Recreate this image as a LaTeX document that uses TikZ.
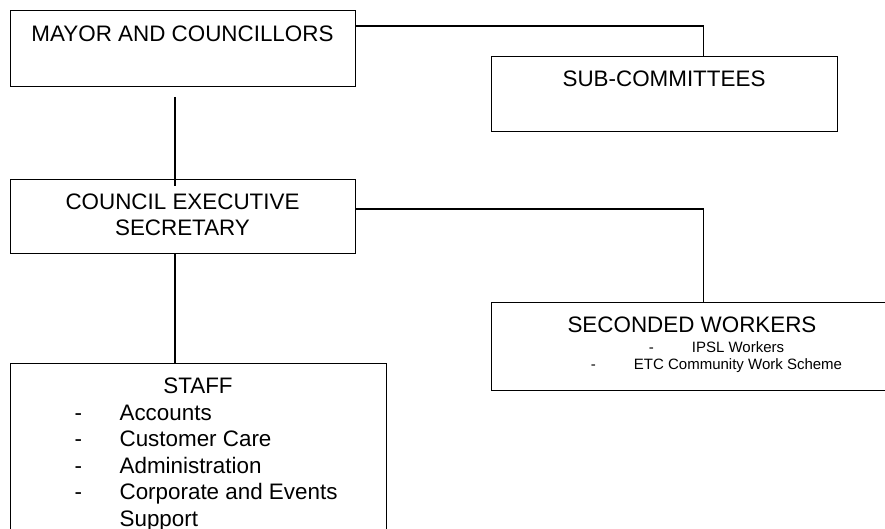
\documentclass[tikz,border=0pt]{standalone}
\usepackage{fontspec}
\setmainfont{Liberation Sans}
\usetikzlibrary{calc}
\begin{document}
\begin{tikzpicture}[x=1pt,y=-1pt,line width=1.3pt,
    box/.style={draw,inner sep=0pt,anchor=north west},
    big/.style={font=\fontsize{22.4}{26.5}\selectfont,inner sep=0pt},
    small/.style={font=\fontsize{15}{17}\selectfont,inner sep=0pt}]
  \clip (0,0) rectangle (885,529);
  \node[box,minimum width=345pt,minimum height=76pt] (mayor) at (10,10) {};
  \node[box,minimum width=346pt,minimum height=75pt] (sub) at (491,56) {};
  \node[box,minimum width=345pt,minimum height=74pt] (council) at (10,179) {};
  \node[box,minimum width=402pt,minimum height=88pt] (seconded) at (491,302) {};
  \node[box,minimum width=376pt,minimum height=200pt] (staff) at (10,363) {};
  \node[big,anchor=base] (mayorlbl) at (182.5,42) {MAYOR AND COUNCILLORS};
  \node[big,anchor=base] (sublbl) at (664,87) {SUB-COMMITTEES};
  \node[big,anchor=north,align=center] (councillbl) at (182.5,193)
    {COUNCIL EXECUTIVE\\SECRETARY};
  \node[big,anchor=base] (secondedlbl) at (692,332) {SECONDED WORKERS};
  \node[small,anchor=north,align=center] (secondedlist) at (716.5,341.3)
    {-\hspace{38pt}IPSL Workers\\-\hspace{38pt}ETC Community Work Scheme};
  \node[big,anchor=base] (stafflbl) at (198,393) {STAFF};
  \node[big,anchor=base west] (stafflist) at (74,420)
    {\begin{tabular}[t]{@{}l@{\hspace{37.5pt}}l@{}}
      - & Accounts\\
      - & Customer Care\\
      - & Administration\\
      - & Corporate and Events\\
        & Support
    \end{tabular}};
  \coordinate (link1) at (175,97);
  \coordinate (link2) at (175,186);
  \draw (link1) -- (link2);
  \draw (council.south -| link1) -- (staff.north -| link1);
  \draw ($(mayor.north east)+(0,16)$) -| ($(sub.north)+(39,0)$);
  \draw ($(council.north east)+(0,30)$) -| ($(seconded.north)+(11,0)$);
\end{tikzpicture}
\end{document}
